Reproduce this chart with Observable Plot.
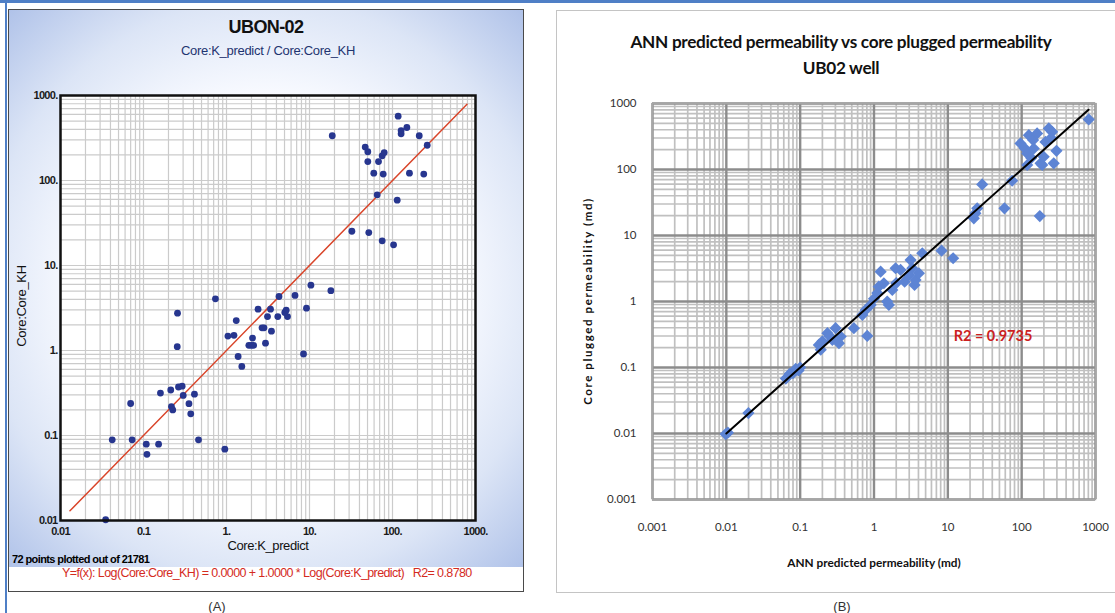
<!DOCTYPE html>
<html>
<head>
<meta charset="utf-8">
<script src="https://cdn.jsdelivr.net/npm/d3@7"></script>
<script src="https://cdn.jsdelivr.net/npm/@observablehq/plot@0.6"></script>
<style>
  html, body { margin:0; padding:0; background:#ffffff; }
  #page { position:relative; width:1115px; height:613px; overflow:hidden; background:#ffffff; }
  .t { position:absolute; white-space:nowrap; line-height:1; }
  .c { transform: translate(-50%, -50%); }
  .cl { transform: translate(0, -50%); }
  .rot { transform: translate(-50%, -50%) rotate(-90deg); }
  .lf { font-family: "Liberation Sans", Arial, sans-serif; }
  .rf { font-family: Lato, "Open Sans", sans-serif; }
  .abs { position:absolute; }
</style>
</head>
<body>
<div id="page">
  <div class="abs" style="left:0;top:0;width:1115px;height:3px;background:#4f7fc6"></div>
  <div class="abs" style="left:8px;top:9px;width:514px;height:581px;border:1.5px solid #4a4a4a;background:#ffffff;overflow:hidden">
    <div class="abs" style="left:0;top:0;width:514px;height:557px;background:radial-gradient(ellipse 74% 70% at 50% 50%, #ffffff 0%, #f8faff 50%, #dce5f6 74%, #adc0e8 100%)"></div>
  </div>
  <div class="abs" style="left:5px;top:0;width:2px;height:613px;background:#4f7fc6"></div>
  <div class="abs" style="left:556px;top:10px;width:570px;height:581px;border:1.5px solid #c4c4c4;background:#ffffff"></div>
  <div id="chartA" class="abs" style="left:0;top:0"></div>
  <div id="chartB" class="abs" style="left:556px;top:0"></div>

  <div class="t c lf" style="left:266px;top:27px;font-size:18px;font-weight:bold;color:#111;letter-spacing:-0.6px">UBON-02</div>
  <div class="t c lf" style="left:268px;top:50px;font-size:13px;color:#1e3470;letter-spacing:-0.3px">Core:K_predict / Core:Core_KH</div>
  <div class="t rot lf" style="left:21px;top:306px;font-size:13px;color:#111;letter-spacing:-0.3px">Core:Core_KH</div>
  <div class="t c lf" style="left:268px;top:545px;font-size:13px;color:#111;letter-spacing:-0.4px">Core:K_predict</div>
  <div class="t cl lf" style="left:12px;top:559px;font-size:11px;font-weight:bold;color:#000;letter-spacing:-0.6px">72 points plotted out of 21781</div>
  <div class="t cl lf" style="left:62px;top:573px;font-size:12.5px;color:#d42b1e;letter-spacing:-0.6px">Y=f(x): Log(Core:Core_KH) = 0.0000 + 1.0000 * Log(Core:K_predict)&nbsp;&nbsp;&nbsp;R2= 0.8780</div>
  <div class="t c lf" style="left:217px;top:606px;font-size:13px;color:#333">(A)</div>
  <div class="t c lf" style="left:842px;top:606px;font-size:13px;color:#333">(B)</div>

  <div class="t c rf" style="left:841px;top:42px;font-size:17.2px;font-weight:bold;color:#111;letter-spacing:-0.3px">ANN predicted permeability vs core plugged permeability</div>
  <div class="t c rf" style="left:841px;top:68px;font-size:17.2px;font-weight:bold;color:#111;letter-spacing:-0.3px">UB02 well</div>
  <div class="t rot rf" style="left:588px;top:301px;font-size:11.5px;font-weight:bold;color:#111;letter-spacing:1.6px">Core plugged permeability (md)</div>
  <div class="t c rf" style="left:874px;top:563px;font-size:11.8px;font-weight:bold;color:#111">ANN predicted permeability (md)</div>
  <div class="t c rf" style="left:993px;top:336px;font-size:14.5px;font-weight:bold;color:#cc1f1f">R2 = 0.9735</div>
</div>
<script>
// ---------- Panel A data (UBON-02): Core:K_predict vs Core:Core_KH ----------
const leftK = [0.035,0.042,0.070,0.073,0.108,0.110,0.152,0.160,0.213,0.217,0.225,0.264,0.292,0.301,0.353,0.371,0.411,0.460,0.955,
  0.255,0.257,0.736,1.04,1.23,1.31,1.38,1.53,1.86,1.99,2.12,2.06,2.40,2.68,2.83,2.95,3.12,3.39,3.48,4.15,4.29,5.04,5.24,5.43,6.69,8.47,9.20,10.4,18.1,
  18.8,32.4,46.9,50.4,50.4,51.8,59.5,65.4,67.8,75.1,79.4,75.1,77.3,103,114,117,127,127,149,160,210,238,262];
const leftCore = [0.0102,0.089,0.238,0.089,0.079,0.060,0.079,0.316,0.343,0.219,0.200,0.372,0.380,0.296,0.237,0.180,0.306,0.089,0.069,
  1.11,2.75,4.06,1.48,1.51,2.25,0.85,0.65,1.15,1.15,1.15,1.40,3.06,1.85,1.85,1.22,2.51,3.06,1.69,2.51,4.32,2.80,2.98,2.51,4.44,0.91,3.15,5.87,5.05,
  336,25.3,247,218,167,24.4,122,67.9,167,195,213,19.5,119,17.5,58.7,571,387,354,420,122,336,119,260];
const leftFit = [0.013, 790];            // Y = X (intercept 0.0000, slope 1.0000)
const leftTicks = [0.01, 0.1, 1, 10, 100, 1000];
const leftTickLabels = ["0.01", "0.1", "1.", "10.", "100.", "1000."];

// ---------- Panel B data (UB02 well): ANN predicted vs core plugged ----------
const rightANN = [0.0098,0.0105,0.0199,0.064,0.072,0.080,0.087,0.095,0.100,0.179,0.190,0.200,0.234,0.250,0.273,0.302,0.354,0.335,0.534,0.810,
  0.695,0.770,0.900,1.00,1.11,1.16,1.23,1.36,1.51,1.59,1.77,1.96,2.00,2.29,2.60,2.96,3.13,3.30,3.54,3.65,4.06,4.51,
  8.22,11.8,22.5,23.6,25.0,29.2,58.5,74.3,
  96.4,110,119,119,125,135,143,146,162,176,180,190,199,210,233,250,259,272,296,809];
const rightCore = [0.0098,0.0103,0.0204,0.068,0.080,0.082,0.095,0.090,0.100,0.220,0.186,0.250,0.331,0.300,0.262,0.394,0.295,0.234,0.394,0.301,
  0.627,0.746,0.887,1.10,1.34,1.68,2.83,1.89,0.997,0.887,1.50,3.19,1.90,3.01,2.00,2.52,4.26,3.20,1.78,2.12,2.68,5.38,
  5.89,4.52,18.2,21.7,25.8,59.5,25.8,67.5,
  248,210,175,117,331,150,279,208,352,19.7,124,117,156,262,419,300,372,124,192,573];
const rightFit = [0.01, 805];
const rightTicks = [0.001, 0.01, 0.1, 1, 10, 100, 1000];
const rightTickLabels = ["0.001", "0.01", "0.1", "1", "10", "100", "1000"];

const minorSteps = [1, 2, 3, 4, 5, 6, 7, 8, 9];

// ---------- build tables ----------
const leftData = leftK.map((k, i) => ({k, core: leftCore[i]}));
const leftFitData = leftFit.map(v => ({x: v, y: v}));
const leftGrid = leftTicks.slice(0, -1).flatMap(d => minorSteps.map(s => s * d)).concat([leftTicks[leftTicks.length - 1]]);

const rightData = rightANN.map((a, i) => ({ann: a, core: rightCore[i]}));
const rightFitData = rightFit.map(v => ({x: v, y: v}));
const rightGrid = rightTicks.slice(0, -1).flatMap(d => minorSteps.slice(1).map(s => s * d));

const fmt = (ticks, labels) => d => { const i = ticks.findIndex(t => Math.abs(t - d) / t < 1e-9); return i >= 0 ? labels[i] : ""; };

const leftPlot = Plot.plot({
  width: 525, height: 600,
  marginLeft: 60, marginRight: 50, marginTop: 95, marginBottom: 80,
  style: {background: "transparent", fontFamily: "'Liberation Sans', Arial, sans-serif", fontSize: "11px", fontWeight: "bold", color: "#1a1a1a", letterSpacing: "-0.7px"},
  x: {type: "log", domain: [0.01, 1000], ticks: leftTicks, tickFormat: fmt(leftTicks, leftTickLabels), tickSize: 0, tickPadding: 7, label: null},
  y: {type: "log", domain: [0.01, 1000], ticks: leftTicks, tickFormat: fmt(leftTicks, leftTickLabels), tickSize: 0, tickPadding: 3, label: null},
  marks: [
    Plot.frame({fill: "white"}),
    Plot.ruleX(leftGrid, {stroke: "#cbcbcb", strokeWidth: 1.2}),
    Plot.ruleY(leftGrid, {stroke: "#cbcbcb", strokeWidth: 1.2}),
    Plot.line(leftFitData, {x: "x", y: "y", stroke: "#d9452a", strokeWidth: 1.5}),
    Plot.dot(leftData, {x: "k", y: "core", r: 3.4, fill: "#27368f"}),
    Plot.frame({stroke: "#111", strokeWidth: 2.5})
  ]
});
document.getElementById("chartA").appendChild(leftPlot);

const rightPlot = Plot.plot({
  width: 559, height: 600,
  marginLeft: 96, marginRight: 20, marginTop: 103, marginBottom: 101,
  style: {background: "transparent", fontFamily: "Lato, 'Open Sans', sans-serif", fontSize: "11.5px", color: "#333"},
  x: {type: "log", domain: [0.001, 1000], ticks: rightTicks, tickFormat: fmt(rightTicks, rightTickLabels), tickSize: 0, tickPadding: 23, label: null},
  y: {type: "log", domain: [0.001, 1000], ticks: rightTicks, tickFormat: fmt(rightTicks, rightTickLabels), tickSize: 0, tickPadding: 16, label: null},
  marks: [
    Plot.ruleX(rightGrid, {stroke: "#c0c0c0", strokeWidth: 1.7}),
    Plot.ruleY(rightGrid, {stroke: "#c0c0c0", strokeWidth: 1.7}),
    Plot.ruleX(rightTicks, {stroke: "#8c8c8c", strokeWidth: 2.4}),
    Plot.ruleY(rightTicks, {stroke: "#8c8c8c", strokeWidth: 2.4}),
    Plot.frame({stroke: "#a6a6a6", strokeWidth: 1.5}),
    Plot.dot(rightData, {x: "ann", y: "core", symbol: "diamond2", r: 5.5, fill: "#5d84d4"}),
    Plot.line(rightFitData, {x: "x", y: "y", stroke: "#000", strokeWidth: 2})
  ]
});
document.getElementById("chartB").appendChild(rightPlot);
</script>
</body>
</html>
